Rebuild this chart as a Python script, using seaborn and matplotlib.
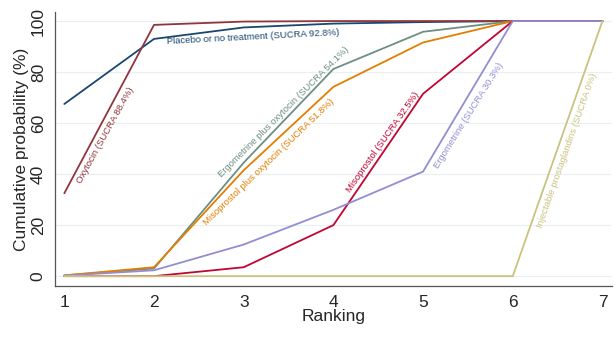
import pandas as pd
import seaborn as sns
import matplotlib.pyplot as plt

# cumulative ranking probabilities (%)
ranks = [1, 2, 3, 4, 5, 6, 7]
placebo = [67.5, 93.0, 97.5, 99.0, 99.6, 100, 100]
oxytocin = [32.5, 98.5, 99.8, 100, 100, 100, 100]
ergo_oxy = [0.3, 3.0, 44.5, 81.2, 95.8, 100, 100]
miso_oxy = [0.3, 3.5, 41.5, 74.2, 91.6, 100, 100]
misoprostol = [0, 0, 3.5, 20.0, 71.5, 100, 100]
ergometrine = [0.2, 2.3, 12.4, 26.0, 41.0, 100, 100]
injectable = [0, 0, 0, 0, 0, 0, 100]

names = ["Placebo or no treatment", "Oxytocin", "Ergometrine plus oxytocin",
         "Misoprostol plus oxytocin", "Misoprostol", "Ergometrine",
         "Injectable prostaglandins"]
sucra = ["92.8%", "88.4%", "54.1%", "51.8%", "32.5%", "30.3%", "0%"]
series = [placebo, oxytocin, ergo_oxy, miso_oxy, misoprostol, ergometrine, injectable]
colors = ["#1a476f", "#90353b", "#6e8e84", "#e37e00", "#c10534", "#938dd2", "#cac27e"]

rows = []
for n, vals in zip(names, series):
    for r, v in zip(ranks, vals):
        rows.append({"Ranking": r, "prob": v, "treatment": n})
df = pd.DataFrame(rows)

sns.set_style("white")
fig = plt.figure(figsize=(6.16, 3.37), dpi=100)
ax = fig.add_axes([0.089, 0.151, 0.905, 0.813])

for y in [0, 20, 40, 60, 80, 100]:
    ax.axhline(y, color="#eaf0f2", lw=0.9, zorder=0)

sns.lineplot(data=df, x="Ranking", y="prob", hue="treatment",
             palette=dict(zip(names, colors)), hue_order=names,
             lw=1.3, legend=False, ax=ax)

# label placement (centre in data coords, rotation in degrees)
lab_pos = [(3.10, 93.6, 3), (1.46, 55.3, 61), (3.45, 64.3, 45),
           (3.28, 44.7, 44), (4.55, 52.5, 55), (5.51, 63.1, 58),
           (6.60, 49.4, 70.5)]
for n, s, c, (x, y, rot) in zip(names, sucra, colors, lab_pos):
    ax.text(x, y, f"{n} (SUCRA {s})", color=c, fontsize=6.8,
            rotation=rot, ha="center", va="center",
            rotation_mode="anchor", family="Liberation Sans")

ax.set_xlim(0.894, 7.11)
ax.set_ylim(-3.9, 103.5)
ax.set_xticks(ranks)
ax.set_yticks([0, 20, 40, 60, 80, 100])
ax.set_yticklabels(["0", "20", "40", "60", "80", "100"], rotation=90, va="center")
ax.tick_params(axis="both", labelsize=12.5, direction="out", length=4,
               color="#555555", width=0.9, pad=2.5)
for lab in ax.get_xticklabels() + ax.get_yticklabels():
    lab.set_family("Liberation Sans")
ax.set_xlabel("Ranking", fontsize=12.5, family="Liberation Sans", labelpad=-1)
ax.set_ylabel("Cumulative probability (%)", fontsize=12.5, family="Liberation Sans", labelpad=1)
for side in ["top", "right"]:
    ax.spines[side].set_visible(False)
for side in ["left", "bottom"]:
    ax.spines[side].set_color("#555555")
    ax.spines[side].set_linewidth(0.9)

fig.savefig("out.png", dpi=100)
